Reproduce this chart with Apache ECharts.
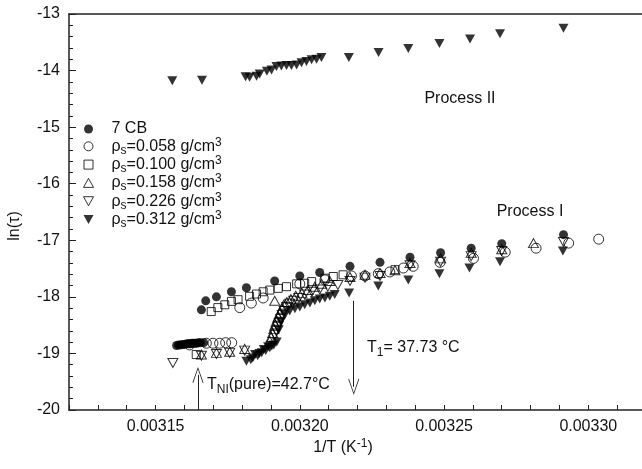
<!DOCTYPE html>
<html>
<head>
<meta charset="utf-8">
<script src="https://cdn.jsdelivr.net/npm/echarts@6/dist/echarts.min.js"></script>
<style>
  html, body { margin: 0; padding: 0; background: #fff; }
  #chart { width: 642px; height: 469px; }
</style>
</head>
<body>
<div id="chart"></div>
<script>
// data: [1/T (K^-1), ln(tau)]
const cb7 = [
  [0.0031573, -18.86], [0.0031580, -18.85], [0.0031587, -18.85], [0.0031594, -18.84],
  [0.0031601, -18.84], [0.0031608, -18.83], [0.0031615, -18.83], [0.0031622, -18.83],
  [0.0031628, -18.82], [0.0031635, -18.82], [0.0031642, -18.82], [0.0031649, -18.81],
  [0.0031656, -18.81], [0.0031667, -18.81],
  [0.0031659, -18.23], [0.0031674, -18.07], [0.0031711, -18.00], [0.0031763, -17.91],
  [0.0031815, -17.84], [0.0031913, -17.72], [0.0032000, -17.63], [0.0032069, -17.57],
  [0.0032174, -17.46], [0.0032278, -17.39], [0.0032382, -17.30], [0.0032488, -17.22],
  [0.0032594, -17.14], [0.0032700, -17.06], [0.0032914, -16.90]
];
const rho058 = [
  [0.0031618, -18.85], [0.0031676, -18.82], [0.0031699, -18.82], [0.0031722, -18.82],
  [0.0031743, -18.81], [0.0031764, -18.81],
  [0.0031792, -18.19], [0.0031832, -18.11], [0.0031873, -18.02], [0.0032000, -17.77],
  [0.0032087, -17.70], [0.0032179, -17.63], [0.0032226, -17.63], [0.0032272, -17.59],
  [0.0032312, -17.56], [0.0032359, -17.49], [0.0032393, -17.46], [0.0032486, -17.39],
  [0.0032602, -17.32], [0.0032712, -17.21], [0.0032819, -17.14], [0.0032932, -17.05],
  [0.0033036, -16.98]
];
const rho100 = [
  [0.0031641, -19.02],
  [0.0031693, -18.26], [0.0031716, -18.19], [0.0031740, -18.14], [0.0031763, -18.08],
  [0.0031786, -18.05], [0.0031826, -17.99], [0.0031850, -17.95], [0.0031873, -17.91],
  [0.0031896, -17.88], [0.0031925, -17.85], [0.0031954, -17.82], [0.0031989, -17.77],
  [0.0032017, -17.76], [0.0032041, -17.73], [0.0032087, -17.67], [0.0032116, -17.64],
  [0.0032150, -17.61], [0.0032330, -17.52]
];
const rho158 = [
  [0.0031659, -19.02], [0.0031711, -18.99], [0.0031757, -18.97], [0.0031809, -18.92],
  [0.0031913, -18.07],
  [0.0031896, -18.78], [0.0031901, -18.71], [0.0031906, -18.64], [0.0031910, -18.57],
  [0.0031915, -18.49], [0.0031920, -18.42], [0.0031925, -18.35], [0.0031931, -18.28],
  [0.0031938, -18.21], [0.0031944, -18.14], [0.0031955, -18.09], [0.0031969, -18.04],
  [0.0031986, -17.98], [0.0032007, -17.93], [0.0032028, -17.88], [0.0032052, -17.82],
  [0.0032076, -17.77], [0.0032104, -17.72], [0.0032174, -17.65], [0.0032226, -17.61],
  [0.0032278, -17.58], [0.0032330, -17.53],
  [0.0032382, -17.40], [0.0032488, -17.32], [0.0032594, -17.22], [0.0032700, -17.16],
  [0.0032810, -17.05]
];
const rho226 = [
  [0.0031560, -19.17],
  [0.0031659, -19.04], [0.0031711, -19.01], [0.0031757, -18.99], [0.0031809, -18.95],
  [0.0031913, -18.67], [0.0031918, -18.60], [0.0031924, -18.53], [0.0031929, -18.46],
  [0.0031934, -18.39], [0.0031939, -18.32], [0.0031946, -18.25], [0.0031955, -18.18],
  [0.0031965, -18.12], [0.0031979, -18.07], [0.0031997, -18.02], [0.0032017, -17.96],
  [0.0032042, -17.91], [0.0032069, -17.87], [0.0032097, -17.82], [0.0032132, -17.79],
  [0.0032174, -17.72], [0.0032226, -17.66], [0.0032278, -17.63],
  [0.0032382, -17.44], [0.0032488, -17.38], [0.0032594, -17.28], [0.0032700, -17.19],
  [0.0032914, -17.03]
];
const rho312 = [
  // process I
  [0.0031815, -19.14], [0.0031830, -19.11], [0.0031837, -19.08], [0.0031845, -19.02],
  [0.0031854, -19.04], [0.0031860, -19.00], [0.0031868, -18.99], [0.0031875, -18.93],
  [0.0031882, -18.95], [0.0031890, -18.88], [0.0031896, -18.90], [0.0031903, -18.87],
  [0.0031910, -18.85], [0.0031920, -18.80], [0.0031927, -18.58], [0.0031934, -18.44],
  [0.0031948, -18.32], [0.0031965, -18.25], [0.0031983, -18.21], [0.0032000, -18.18],
  [0.0032017, -18.14], [0.0032035, -18.11], [0.0032052, -18.07], [0.0032069, -18.04],
  [0.0032087, -18.02], [0.0032104, -17.99], [0.0032121, -17.96], [0.0032171, -17.93],
  [0.0032272, -17.81], [0.0032376, -17.70], [0.0032484, -17.59], [0.0032588, -17.49],
  [0.0032694, -17.38], [0.0032912, -17.19],
  // process II
  [0.0031558, -14.18], [0.0031661, -14.17], [0.0031812, -14.11], [0.0031826, -14.12],
  [0.0031850, -14.10], [0.0031861, -14.06], [0.0031886, -14.01], [0.0031902, -13.99],
  [0.0031919, -13.93], [0.0031936, -13.92], [0.0031954, -13.91], [0.0031971, -13.91],
  [0.0031989, -13.90], [0.0032006, -13.86], [0.0032023, -13.84], [0.0032041, -13.81],
  [0.0032058, -13.80], [0.0032075, -13.77],
  [0.0032170, -13.77], [0.0032273, -13.68], [0.0032376, -13.61], [0.0032484, -13.52],
  [0.0032590, -13.44], [0.0032694, -13.35], [0.0032914, -13.25]
];

// arrow positions on the x axis
const TNI_X = 0.0031647;
const T1_X = 0.0032187;

const FONT = 'Liberation Sans, Arial, sans-serif';
const TRI_UP = 'path://M5,0 L10,9 L0,9 Z';
const TRI_DOWN = 'path://M0,0 L10,0 L5,9 Z';
const SQUARE = 'path://M0,0 L10,0 L10,10 L0,10 Z';
const CHEVRON = 'path://M0,0 L6,15 L5.2,15.3 L0,2.2 L-5.2,15.3 L-6,15 Z';

const openStyle = { color: 'rgba(0,0,0,0)', borderColor: '#000', borderWidth: 1 };
const fillStyle = { color: '#000' };

const chart = echarts.init(document.getElementById('chart'));

const richTok = {
  n: { fontSize: 16, fontFamily: FONT, lineHeight: 18, color: '#111' },
  s: { fontSize: 12, fontFamily: FONT, lineHeight: 10, padding: [8, 0, 0, 0], color: '#111' },
  p: { fontSize: 12, fontFamily: FONT, lineHeight: 10, padding: [0, 0, 8, 0], color: '#111' }
};
const gRich = {
  n: { fontSize: 16, fontFamily: FONT, lineHeight: 18, fill: '#111' },
  s: { fontSize: 12, fontFamily: FONT, lineHeight: 11, padding: [9, 0, 0, 0], fill: '#111' },
  p: { fontSize: 12, fontFamily: FONT, lineHeight: 11, padding: [0, 0, 9, 0], fill: '#111' }
};

const option = {
  animation: false,
  backgroundColor: '#fff',
  grid: { left: 69, right: -4, top: 14, bottom: 59, outerBoundsMode: 'none', containLabel: false },
  xAxis: [{
    type: 'value', min: 0.00312, max: 0.00332, interval: 0.00001,
    axisLine: { lineStyle: { color: '#222', width: 1.5 } },
    axisTick: { inside: true, length: 5, lineStyle: { color: '#222' } },
    axisLabel: {
      interval: 0, margin: 9, fontSize: 16, fontFamily: FONT, color: '#111',
      formatter: function (v) {
        const k = Math.round(v * 1e5);
        return k % 5 === 0 ? (k / 1e5).toFixed(5) : '';
      }
    },
    splitLine: { show: false }
  }, {
    type: 'value', position: 'top', min: 0.00312, max: 0.00332,
    axisLine: { show: true, onZero: false, lineStyle: { color: '#222', width: 1.5 } },
    axisTick: { show: false }, axisLabel: { show: false }, splitLine: { show: false }
  }],
  yAxis: {
    type: 'value', min: -20, max: -13, interval: 1,
    axisLine: { show: true, lineStyle: { color: '#222', width: 1.5 } },
    axisTick: { show: true, inside: true, length: 7, lineStyle: { color: '#222' } },
    minorTick: { show: true, splitNumber: 5, length: 4, lineStyle: { color: '#222' } },
    axisLabel: { margin: 9, fontSize: 16, fontFamily: FONT, color: '#111' },
    splitLine: { show: false }
  },
  legend: {
    orient: 'vertical', left: 78, top: 115, itemGap: -1.7,
    itemWidth: 36, itemHeight: 9, selectedMode: false,
    textStyle: { fontSize: 16, fontFamily: FONT, color: '#111', lineHeight: 18, rich: richTok },
    formatter: function (name) {
      const m = name.match(/^ρs=(.*) g\/cm3$/);
      if (!m) return '{n|' + name + '}';
      return '{n|ρ}{s|s}{n|=' + m[1] + ' g/cm}{p|3}';
    },
    data: [
      { name: '7 CB', icon: 'circle', itemStyle: fillStyle },
      { name: 'ρs=0.058 g/cm3', icon: 'circle', itemStyle: openStyle },
      { name: 'ρs=0.100 g/cm3', icon: SQUARE, itemStyle: openStyle },
      { name: 'ρs=0.158 g/cm3', icon: TRI_UP, itemStyle: openStyle },
      { name: 'ρs=0.226 g/cm3', icon: TRI_DOWN, itemStyle: openStyle },
      { name: 'ρs=0.312 g/cm3', icon: TRI_DOWN, itemStyle: fillStyle }
    ]
  },
  graphic: [
    { type: 'text', x: 460, y: 99, style: { text: 'Process II', font: '16px ' + FONT, fill: '#111', align: 'center', verticalAlign: 'middle' } },
    { type: 'text', x: 530, y: 212, style: { text: 'Process I', font: '16px ' + FONT, fill: '#111', align: 'center', verticalAlign: 'middle' } },
    { type: 'text', x: 367, y: 348, style: { text: '{n|T}{s|1}{n|= 37.73 °C}', rich: gRich, font: '16px ' + FONT, fill: '#111', align: 'left', verticalAlign: 'middle' } },
    { type: 'text', x: 207, y: 385, style: { text: '{n|T}{s|NI}{n|(pure)=42.7°C}', rich: gRich, font: '16px ' + FONT, fill: '#111', align: 'left', verticalAlign: 'middle' } },
    { type: 'text', x: 343, y: 448, style: { text: '{n|1/T (K}{p|-1}{n|)}', rich: gRich, font: '16px ' + FONT, fill: '#111', align: 'center', verticalAlign: 'middle' } },
    { type: 'text', x: 15, y: 226, rotation: Math.PI / 2, style: { text: 'ln(τ)', font: '16px ' + FONT, fill: '#111', align: 'center', verticalAlign: 'middle' } }
  ],
  series: [
    {
      name: '7 CB', type: 'scatter', data: cb7, symbol: 'circle', symbolSize: 9, itemStyle: fillStyle,
      markLine: {
        silent: true, symbol: ['none', CHEVRON], symbolSize: [11, 16],
        lineStyle: { color: '#222', width: 1, type: 'solid' }, label: { show: false },
        data: [
          [{ coord: [TNI_X, -20] }, { coord: [TNI_X, -19.38] }],
          [{ coord: [T1_X, -18.07] }, { coord: [T1_X, -19.59] }]
        ]
      }
    },
    { name: 'ρs=0.058 g/cm3', type: 'scatter', data: rho058, symbol: 'circle', symbolSize: 10, itemStyle: openStyle },
    { name: 'ρs=0.100 g/cm3', type: 'scatter', data: rho100, symbol: SQUARE, symbolSize: 8, itemStyle: openStyle },
    { name: 'ρs=0.158 g/cm3', type: 'scatter', data: rho158, symbol: TRI_UP, symbolSize: [10, 9], itemStyle: openStyle },
    { name: 'ρs=0.226 g/cm3', type: 'scatter', data: rho226, symbol: TRI_DOWN, symbolSize: [10, 9], itemStyle: openStyle },
    { name: 'ρs=0.312 g/cm3', type: 'scatter', data: rho312, symbol: TRI_DOWN, symbolSize: [10, 9], itemStyle: fillStyle }
  ]
};

chart.setOption(option);
</script>
</body>
</html>
